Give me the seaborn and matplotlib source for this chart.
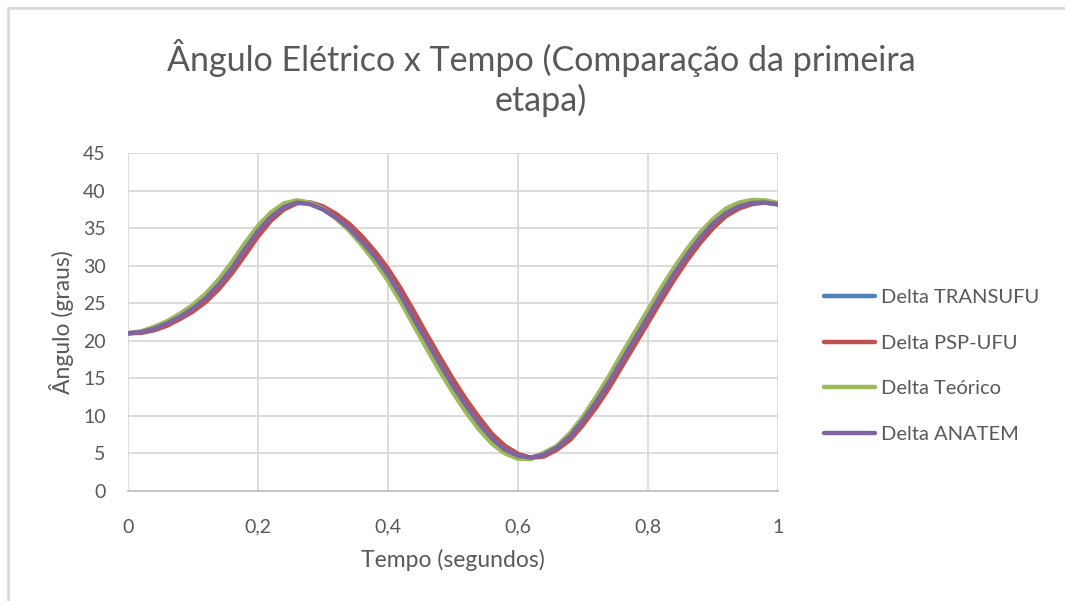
import numpy as np
import pandas as pd
import matplotlib
matplotlib.use("Agg")
import matplotlib.pyplot as plt
from matplotlib.lines import Line2D
import seaborn as sns

# Time axis (s)
tempo = [0.00, 0.02, 0.04, 0.06, 0.08, 0.10, 0.12, 0.14, 0.16, 0.18,
         0.20, 0.22, 0.24, 0.26, 0.28, 0.30, 0.32, 0.34, 0.36, 0.38,
         0.40, 0.42, 0.44, 0.46, 0.48, 0.50, 0.52, 0.54, 0.56, 0.58,
         0.60, 0.62, 0.64, 0.66, 0.68, 0.70, 0.72, 0.74, 0.76, 0.78,
         0.80, 0.82, 0.84, 0.86, 0.88, 0.90, 0.92, 0.94, 0.96, 0.98, 1.00]

# Rotor angle (degrees) per program
delta_transufu = [21.0, 21.17, 21.65, 22.35, 23.28, 24.4, 25.8, 27.6, 29.8, 32.3,
                  34.7, 36.6, 37.9, 38.45, 38.25, 37.5, 36.35, 34.9, 33.1, 31.05,
                  28.65, 25.85, 22.75, 19.75, 16.75, 13.85, 11.25, 8.9, 6.9, 5.42,
                  4.65, 4.45, 4.9, 5.85, 7.38, 9.5, 11.9, 14.6, 17.5, 20.4,
                  23.3, 26.2, 29.0, 31.5, 33.8, 35.7, 37.1, 37.95, 38.4, 38.42, 38.18]
delta_psp_ufu = [21.0, 21.05, 21.4, 22.0, 22.9, 23.9, 25.2, 26.9, 29.0, 31.4,
                 33.9, 36.0, 37.5, 38.3, 38.45, 37.9, 36.9, 35.6, 33.9, 31.9,
                 29.6, 26.9, 23.9, 20.8, 17.8, 14.9, 12.2, 9.8, 7.6, 6.0,
                 4.95, 4.4, 4.6, 5.5, 6.8, 8.8, 11.1, 13.7, 16.6, 19.5,
                 22.4, 25.3, 28.1, 30.7, 33.0, 35.0, 36.6, 37.6, 38.2, 38.4, 38.2]
delta_teorico = [21.0, 21.25, 21.85, 22.6, 23.6, 24.8, 26.3, 28.2, 30.5, 33.0,
                 35.3, 37.1, 38.3, 38.7, 38.4, 37.6, 36.3, 34.7, 32.7, 30.5,
                 28.0, 25.1, 22.0, 18.9, 15.9, 13.1, 10.5, 8.2, 6.3, 5.0,
                 4.3, 4.25, 5.1, 6.0, 7.7, 9.9, 12.5, 15.3, 18.3, 21.2,
                 24.1, 27.0, 29.7, 32.2, 34.4, 36.2, 37.6, 38.4, 38.75, 38.7, 38.35]
delta_anatem = [21.0, 21.15, 21.6, 22.3, 23.2, 24.3, 25.7, 27.5, 29.7, 32.2,
                34.6, 36.5, 37.8, 38.4, 38.2, 37.5, 36.4, 35.0, 33.2, 31.2,
                28.8, 26.0, 22.9, 19.9, 16.9, 14.0, 11.4, 9.0, 7.0, 5.5,
                4.7, 4.45, 4.85, 5.8, 7.3, 9.4, 11.8, 14.5, 17.4, 20.3,
                23.2, 26.1, 28.9, 31.4, 33.7, 35.6, 37.0, 37.9, 38.35, 38.4, 38.15]

series_names = ["Delta TRANSUFU", "Delta PSP-UFU", "Delta Teórico", "Delta ANATEM"]
series_colors = ["#4F81BD", "#C0504D", "#9BBB59", "#8064A2"]
x_ticks = [0, 0.2, 0.4, 0.6, 0.8, 1.0]
x_tick_labels = ["0", "0,2", "0,4", "0,6", "0,8", "1"]
y_ticks = list(range(0, 50, 5))

title_lines = ["Ângulo Elétrico x Tempo (Comparação da primeira", "etapa)"]
x_label = "Tempo (segundos)"
y_label = "Ângulo (graus)"

sns.set_theme(style="white")
plt.rcParams["font.family"] = ["Lato", "DejaVu Sans"]

text_color = "#595959"
grid_color = "#D9D9D9"

df = pd.DataFrame({
    "tempo": tempo * 4,
    "delta": delta_transufu + delta_psp_ufu + delta_teorico + delta_anatem,
    "serie": sum([[n] * len(tempo) for n in series_names], []),
})

fig = plt.figure(figsize=(10.65, 6.01), dpi=100)
ax = fig.add_axes([128 / 1065, 1 - 491 / 601, 650 / 1065, 338 / 601])

sns.lineplot(data=df, x="tempo", y="delta", hue="serie", hue_order=series_names,
             palette=series_colors, linewidth=3.2, ax=ax, legend=False,
             estimator=None, sort=True)
for line in ax.get_lines():
    line.set_solid_joinstyle("round")
    line.set_solid_capstyle("round")

ax.set_xlim(0, 1)
ax.set_ylim(0, 45)
ax.set_xticks(x_ticks)
ax.set_xticklabels(x_tick_labels)
ax.set_yticks(y_ticks)
ax.tick_params(axis="both", length=0, labelsize=14, colors=text_color)
ax.tick_params(axis="x", pad=20)
ax.tick_params(axis="y", pad=16)
ax.grid(True, color=grid_color, linewidth=1.3)
ax.set_axisbelow(True)
for side in ["top", "right", "left"]:
    ax.spines[side].set_visible(False)
ax.spines["bottom"].set_color("#BFBFBF")
ax.spines["bottom"].set_linewidth(1.3)
ax.set_xlabel("")
ax.set_ylabel("")

fig.text(453 / 1065, 1 - 560 / 601, x_label, ha="center", va="center",
         fontsize=16.5, color=text_color)
fig.text(62 / 1065, 1 - 322 / 601, y_label, ha="center", va="center",
         rotation=90, fontsize=16.5, color=text_color)
fig.text(541 / 1065, 1 - 58 / 601, title_lines[0], ha="center",
         va="center", fontsize=24.5, color=text_color)
fig.text(541 / 1065, 1 - 100 / 601, title_lines[1], ha="center",
         va="center", fontsize=24.5, color=text_color)

handles = [Line2D([], [], color=c, linewidth=3.2) for c in series_colors]
fig.legend(handles, series_names, loc="center left",
           bbox_to_anchor=(806 / 1065, 1 - 366 / 601), frameon=False,
           fontsize=14.5, labelcolor=text_color, handlelength=2.55,
           handletextpad=0.25, labelspacing=1.42)

# Outer chart frame (top and left edges)
fig.add_artist(Line2D([8 / 1065, 1.0], [1 - 8 / 601, 1 - 8 / 601],
                      transform=fig.transFigure, color=grid_color, linewidth=2))
fig.add_artist(Line2D([8 / 1065, 8 / 1065], [1 - 8 / 601, 0.0],
                      transform=fig.transFigure, color=grid_color, linewidth=2))

fig.savefig("out.png", dpi=100)
